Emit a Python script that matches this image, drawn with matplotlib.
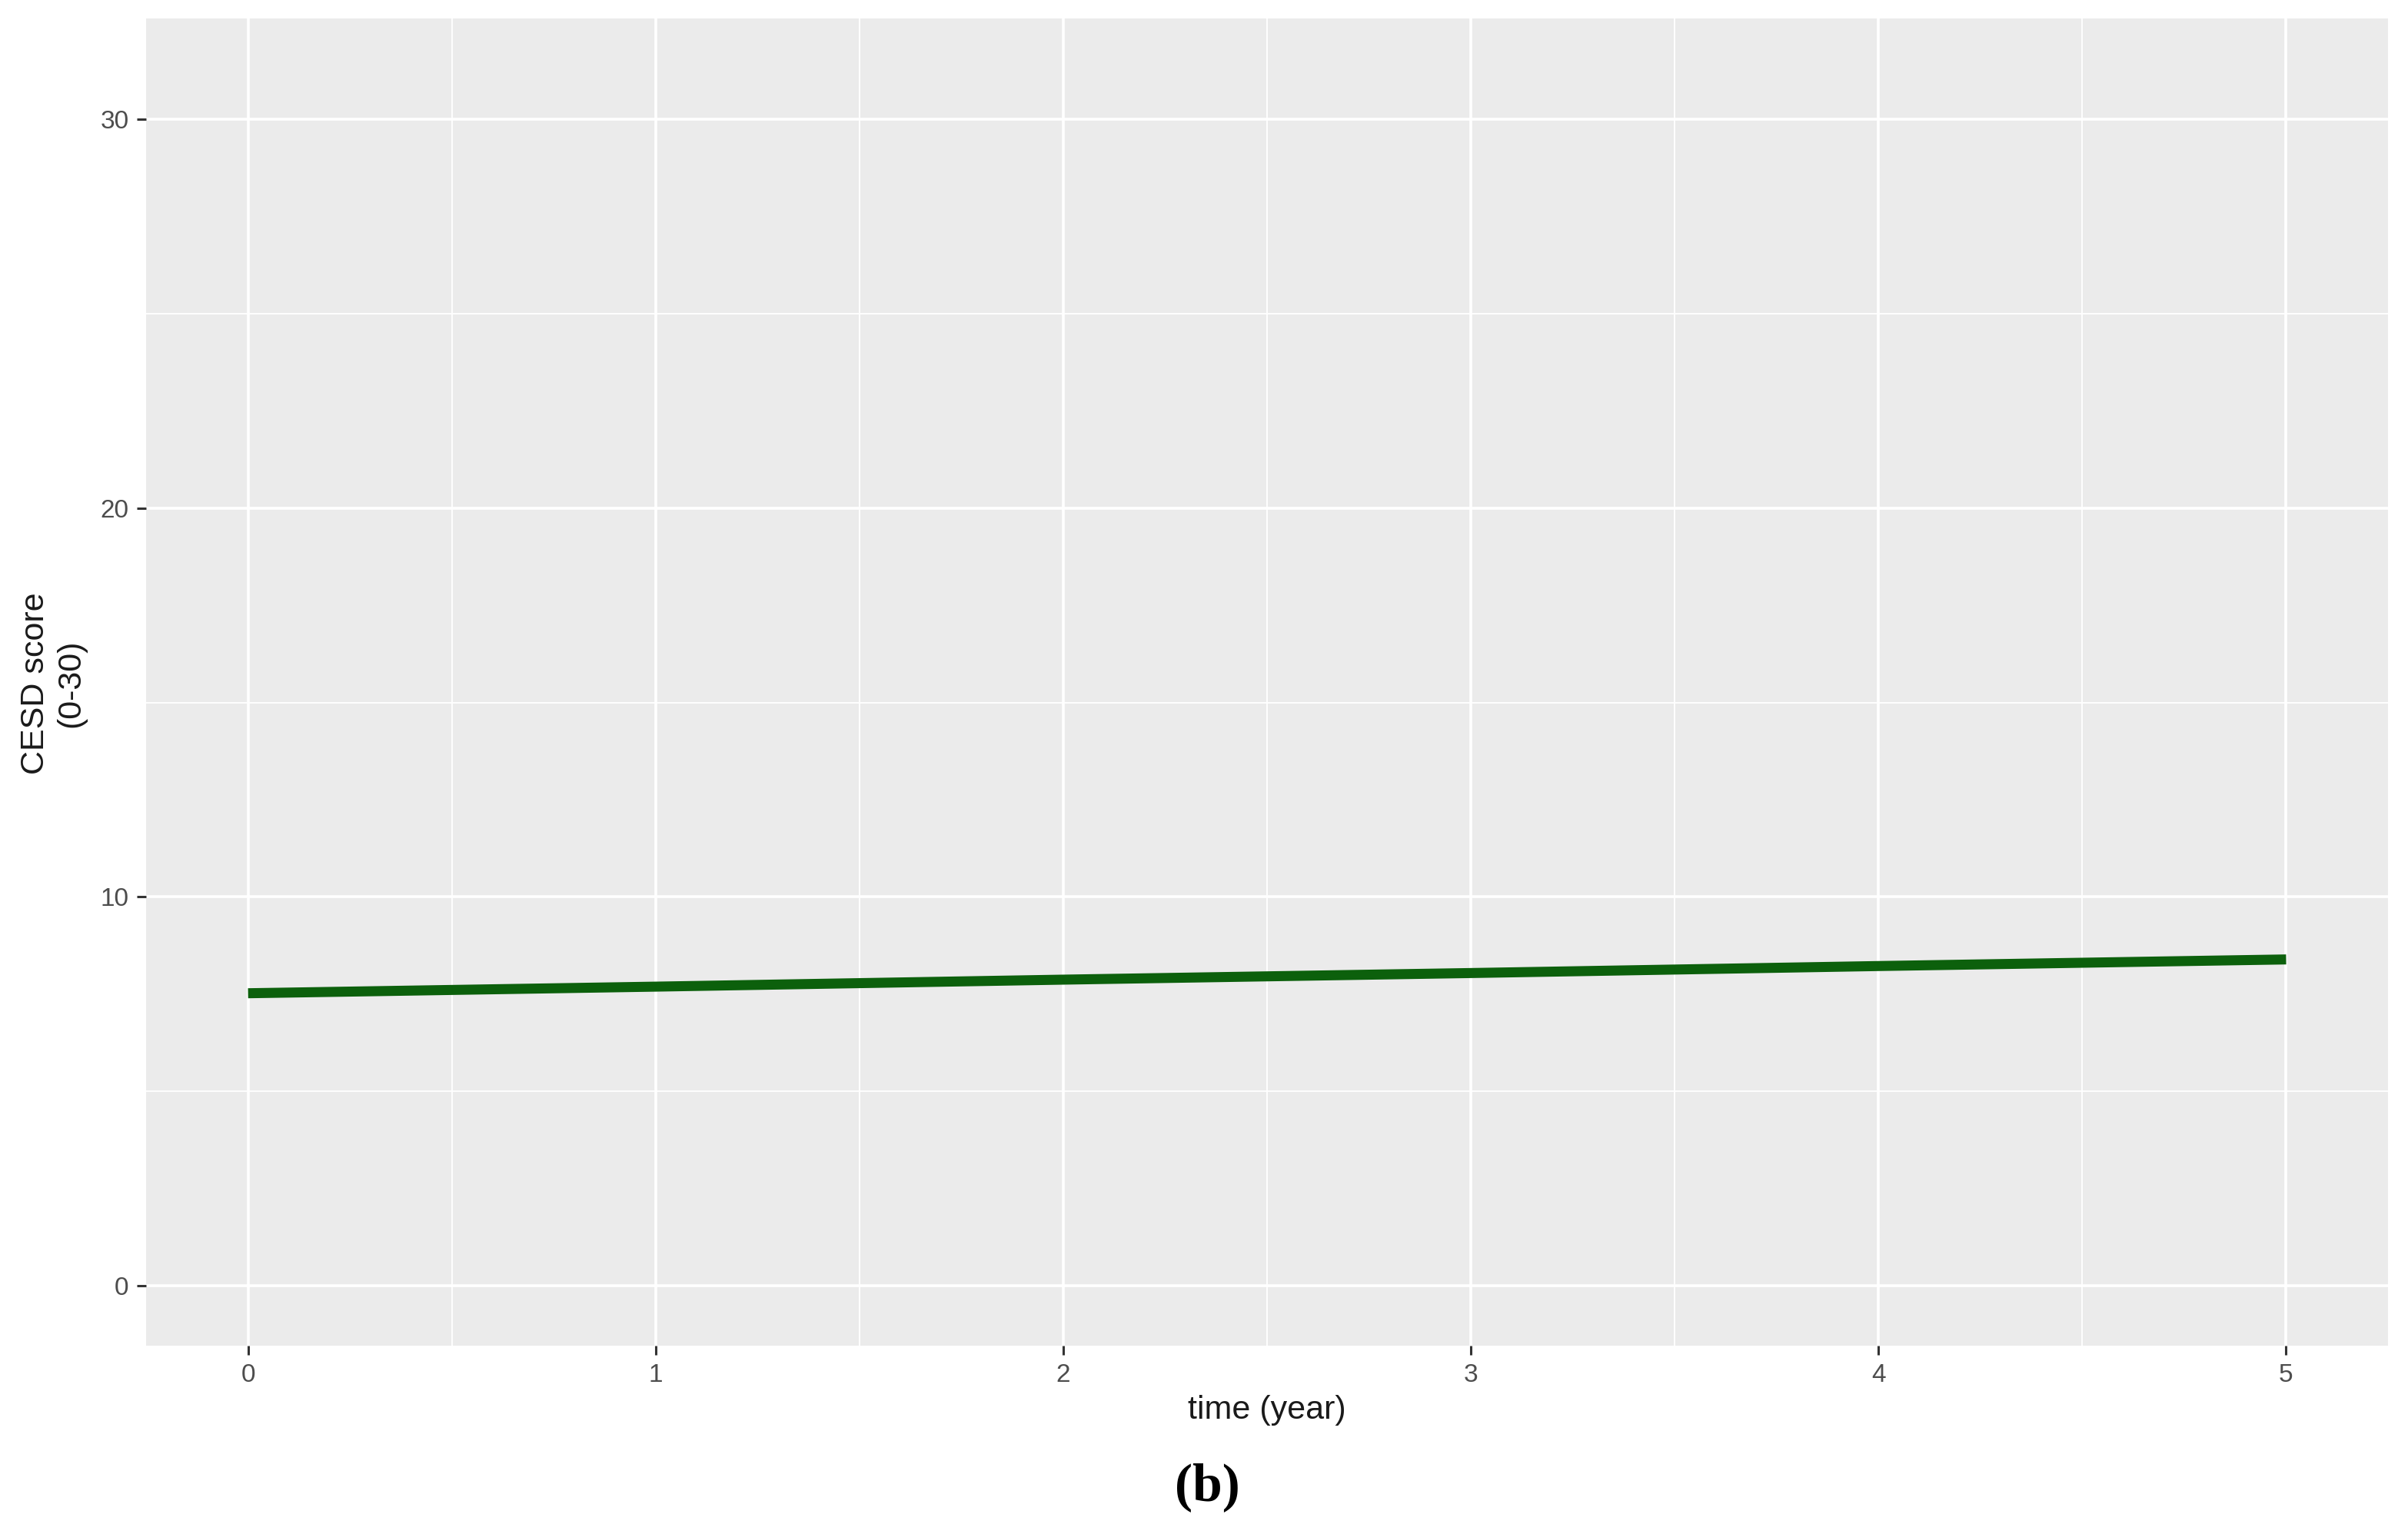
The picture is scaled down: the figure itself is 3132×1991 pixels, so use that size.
import numpy as np
import matplotlib.pyplot as plt
from matplotlib.ticker import MultipleLocator

# values (predicted CESD score by year)
years = [0, 1, 2, 3, 4, 5]
cesd = [7.52, 7.69, 7.87, 8.04, 8.22, 8.39]

x_ticks = [0, 1, 2, 3, 4, 5]
y_ticks = [0, 10, 20, 30]

plt.rcParams['font.family'] = ['Liberation Sans', 'DejaVu Sans']

fig = plt.figure(figsize=(15.66, 9.955), dpi=200)
ax = fig.add_axes([0.0607, 0.1210, 0.9310, 0.8669])

# ggplot-like grey panel
ax.set_facecolor('#ebebeb')
for s in ax.spines.values():
    s.set_visible(False)

ax.plot(years, cesd, color='#0c600c', linewidth=4.7, solid_capstyle='butt', zorder=3)

ax.set_xlim(-0.25, 5.25)
ax.set_ylim(-1.55, 32.6)
ax.set_xticks(x_ticks)
ax.set_yticks(y_ticks)
ax.xaxis.set_minor_locator(MultipleLocator(0.5))
ax.yaxis.set_minor_locator(MultipleLocator(5))

ax.grid(which='major', color='white', linewidth=1.3)
ax.grid(which='minor', color='white', linewidth=0.65)
ax.set_axisbelow(True)

ax.tick_params(which='major', length=4.2, width=1.1, color='#333333',
               labelsize=12, labelcolor='#4d4d4d', pad=4)
ax.tick_params(which='minor', length=0)

fig.text(1648 / 3132, 1 - 1834 / 1991, 'time (year)', ha='center', va='center',
         fontsize=15.5, color='#1a1a1a')
fig.text(69 / 3132, 1 - 889 / 1991, 'CESD score\n(0-30)', ha='center', va='center',
         rotation=90, fontsize=15.5, color='#1a1a1a', linespacing=1.2,
         multialignment='center')

fig.text(1570 / 3132, 1 - 1934 / 1991, '(b)', ha='center', va='center',
         fontsize=25, fontweight='bold', family=['Liberation Serif', 'DejaVu Serif'])

fig.savefig('out.png', dpi=200)
